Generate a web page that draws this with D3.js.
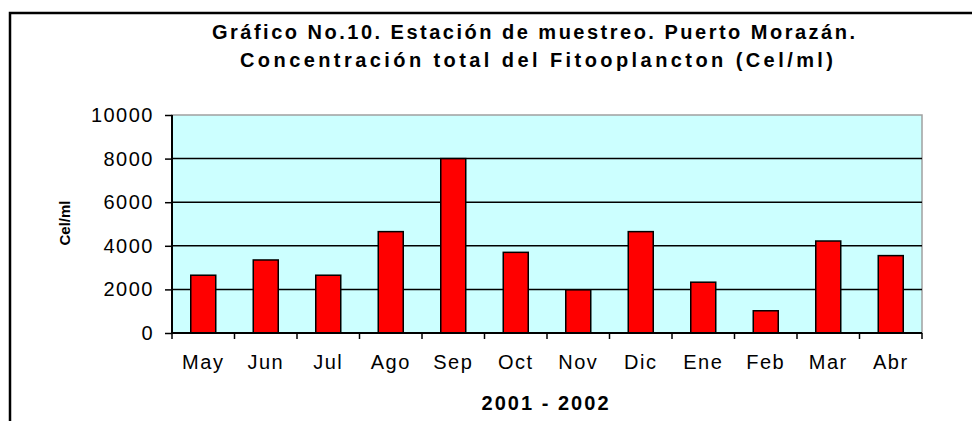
<!DOCTYPE html>
<html>
<head>
<meta charset="utf-8">
<script src="https://cdn.jsdelivr.net/npm/d3@7"></script>
<style>
  body { margin: 0; background: #fff; }
  svg { display: block; font-family: Arial, "Liberation Sans", sans-serif; }
  .axis path { display: none; }
  .axis text { font-size: 20px; fill: #000; letter-spacing: 1.5px; }
</style>
</head>
<body>
<svg class="chart"></svg>
<script>
const months = ["May", "Jun", "Jul", "Ago", "Sep", "Oct", "Nov", "Dic", "Ene", "Feb", "Mar", "Abr"]
const values = [2650, 3350, 2650, 4650, 8000, 3700, 1980, 4650, 2330, 1020, 4220, 3550]
const yTicks = [0, 2000, 4000, 6000, 8000, 10000]
const titleLines = ["Gráfico No.10. Estación de muestreo. Puerto Morazán.",
                    "Concentración total del Fitooplancton (Cel/ml)"]

var margin = {top: 115, left: 172}
  , width = 750
  , height = 218;

var svg = d3.select(".chart")
    .attr("width", 972)
    .attr("height", 421)

// outer chart frame (runs off the right and bottom of the picture)
svg.append("rect")
    .attr("x", 10).attr("y", 13)
    .attr("width", 1000).attr("height", 440)
    .attr("fill", "none")
    .attr("stroke", "#000")
    .attr("stroke-width", 2.5)

// title
svg.append("text")
    .attr("x", 212).attr("y", 39)
    .attr("textLength", 643).attr("lengthAdjust", "spacing")
    .attr("font-weight", "bold").attr("font-size", 20)
    .text(titleLines[0])
svg.append("text")
    .attr("x", 240).attr("y", 67)
    .attr("textLength", 593).attr("lengthAdjust", "spacing")
    .attr("font-weight", "bold").attr("font-size", 20)
    .text(titleLines[1])

var xScale = d3.scaleBand()
    .domain(months)
    .range([0, width])
    .paddingInner(0.6)
    .paddingOuter(0.3)

// boundaries between categories, for the tick marks
var edgeScale = d3.scaleLinear()
    .domain([0, months.length])
    .range([0, width])

var yScale = d3.scaleLinear()
    .domain([0, 10000])
    .range([height, 0])

var graph = svg.append("g")
    .attr("transform", "translate(" + margin.left + "," + margin.top + ")")

graph.append("rect")
    .attr("width", width).attr("height", height)
    .attr("fill", "#ccffff")
    .attr("stroke", "#a0a0a0")
    .attr("stroke-width", 1.5)

// gridlines
graph.selectAll(".grid")
    .data(yTicks.filter(d => d > 0 && d < 10000))
    .enter().append("line")
    .attr("x1", 0).attr("x2", width)
    .attr("y1", d => yScale(d)).attr("y2", d => yScale(d))
    .attr("stroke", "#000")
    .attr("stroke-width", 1.5)

// bars
graph.selectAll(".bar")
    .data(values)
    .enter().append("rect")
    .attr("x", (d, i) => xScale(months[i]))
    .attr("y", d => yScale(d))
    .attr("width", xScale.bandwidth())
    .attr("height", d => height - yScale(d))
    .attr("fill", "#ff0000")
    .attr("stroke", "#000")
    .attr("stroke-width", 1.5)

// y axis
graph.append("g")
    .attr("class", "y axis")
    .call(d3.axisLeft(yScale).tickValues(yTicks).tickFormat(d3.format("d")).tickSize(7).tickPadding(11))
    .call(g => g.selectAll(".tick line").attr("stroke", "#000").attr("stroke-width", 1.5))

graph.append("line")
    .attr("x1", 0).attr("x2", 0).attr("y1", 0).attr("y2", height)
    .attr("stroke", "#000").attr("stroke-width", 2)

// x axis: labels under the bars, ticks on category edges
graph.append("g")
    .attr("class", "x axis")
    .attr("transform", "translate(0," + height + ")")
    .call(d3.axisBottom(xScale).tickSize(0).tickPadding(22))

graph.append("g")
    .attr("transform", "translate(0," + height + ")")
    .selectAll("line")
    .data(d3.range(months.length + 1))
    .enter().append("line")
    .attr("x1", d => edgeScale(d)).attr("x2", d => edgeScale(d))
    .attr("y1", 0).attr("y2", 6)
    .attr("stroke", "#000").attr("stroke-width", 1.5)

graph.append("line")
    .attr("x1", 0).attr("x2", width).attr("y1", height).attr("y2", height)
    .attr("stroke", "#000").attr("stroke-width", 2)

// axis titles
svg.append("text")
    .attr("x", 545).attr("y", 410)
    .attr("text-anchor", "middle")
    .attr("textLength", 127).attr("lengthAdjust", "spacing")
    .attr("font-weight", "bold").attr("font-size", 20)
    .text("2001 - 2002")

svg.append("text")
    .attr("transform", "translate(70, 223) rotate(-90)")
    .attr("text-anchor", "middle")
    .attr("font-weight", "bold").attr("font-size", 15)
    .text("Cel/ml")
</script>
</body>
</html>
